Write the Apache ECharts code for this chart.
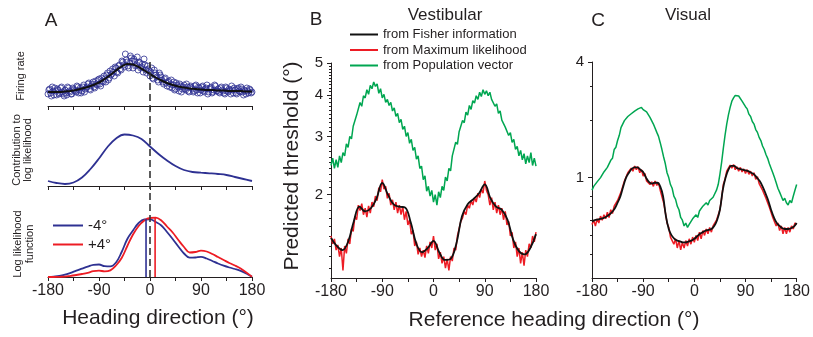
<!DOCTYPE html>
<html>
<head>
<meta charset="utf-8">
<script src="https://cdn.jsdelivr.net/npm/echarts@6/dist/echarts.min.js"></script>
<style>
  html, body { margin: 0; padding: 0; background: #fff; }
  #chart { width: 813px; height: 337px; }
</style>
</head>
<body>
<div id="chart"></div>
<script>
// headings sampled every 3 / 5 / 10 / 15 degrees
function steps(a, b, d) { var out = []; for (var v = a; v <= b + 1e-9; v += d) out.push(v); return out; }
var deg3 = steps(-180, 180, 3);
var deg3half = steps(-178.5, 178.5, 3);
var deg5 = steps(-180, 180, 5);
var deg10 = steps(-180, 180, 10);
var deg15 = steps(-180, 180, 15);

// panel A, top: firing rate (arbitrary units)
var firingA = [12,17,10,15,18,11,16,13,19,12, 16,11,18,14,12,17,15,20,13,18, 15,21,17,19,23,16,22,19,25,21,
  27,20,25,30,24,33,28,31,37,30, 38,33,41,36,44,39,46,40,43,48, 38,45,41,36,43,39,34,41,33,37,
  30,38,27,33,29,24,31,26,22,28, 20,25,22,18,24,17,21,15,20,17, 21,16,19,14,20,17,15,21,13,18,
  16,20,14,18,12,17,19,14,21,15, 17,13,19,15,12,18,14,16,20,13, 16,12,18,14,17,11,15,18,13,16, 14];
var firingB = [16,13,19,11,15,17,12,18,14,10, 13,19,15,12,18,16,14,19,16,13, 19,14,18,22,17,20,24,18,22,26,
  22,28,24,27,31,26,35,32,34,39, 34,40,37,45,41,52,44,38,50,45, 47,40,49,44,38,42,47,36,40,35,
  34,28,36,31,26,33,29,24,27,23, 24,19,26,21,16,23,19,22,14,19, 17,22,15,19,18,14,20,16,19,13,
  19,15,17,21,14,18,13,16,20,15, 14,18,16,13,19,15,17,12,16,18, 13,17,15,19,14,16,12,15,17,13];
var firingFit = [14,14,14,14.5,15,16,17.5,19,21,23.5,27,31,35.5,39.5,42,41.5,39,35.5,32,28.5,25.5,23,21,19.5,
  18.5,17.5,17,16.5,16,16,15.5,15.5,15,15,15,14.5,14.5];

// panel A, middle: contribution to log likelihood
var contribution = [5,3,2,3.5,8.5,17,27.5,39,47.5,51.5,50.5,47,39.5,32,25.5,20,16,14,13.3,12.7,12,11,9,7,5];

// panel A, bottom: log likelihood functions
var llMinus4 = [0,0.4,1,2.3,4.2,6.3,8.3,10.3,12.2,12.5,10.8,10.6,14.5,25,38,46.5,54,57.5,57.7,55,51.5,45,38,30.5,
  23.5,19.3,19.5,20.2,18.5,16,13.5,11.3,9.5,8,6.2,3.5,0.3];
var llPlus4 = [0,0,0.2,0.4,1.2,2,3,4.2,5.8,6.4,5.6,6.6,11.5,19,31,42.5,51,56.5,59,59.3,56.5,50.5,44.5,37,
  30,24.5,25,26.3,25.5,23,20,17,14,11.5,8.5,4.5,0.3];
var peakMinus4 = [-7, 58];
var peakPlus4 = [9, 59.5];

// panel B: vestibular thresholds (deg)
var vestFisher = [1.48,1.40,1.36,1.44,1.66,1.84,1.78,1.82,1.95,2.17,2.00,1.87,1.84,1.83,1.65,1.42,1.34,1.38,1.45,
  1.34,1.27,1.28,1.42,1.72,1.87,1.94,2.02,2.15,1.95,1.84,1.80,1.68,1.46,1.35,1.32,1.38,1.52];
var vestML = [1.50,1.42,1.47,1.36,1.41,1.30,1.38,1.18,1.40,1.33, 1.47,1.42,1.58,1.55,1.72,1.68,1.86,1.79,1.88,1.74,
  1.82,1.71,1.85,1.76,1.90,1.84,1.98,1.92,2.10,2.04, 2.22,2.08,2.12,1.95,2.02,1.86,1.93,1.80,1.90,1.76,
  1.86,1.74,1.84,1.68,1.78,1.62,1.68,1.52,1.56,1.40, 1.44,1.32,1.38,1.30,1.36,1.29,1.40,1.33,1.44,1.38,
  1.50,1.36,1.42,1.28,1.34,1.24,1.30,1.20,1.28,1.18, 1.30,1.26,1.38,1.36,1.50,1.52,1.66,1.70,1.78,1.74,
  1.86,1.82,1.92,1.86,1.96,1.90,2.02,1.96,2.08,2.02, 2.20,2.06,2.00,1.86,1.96,1.80,1.90,1.76,1.86,1.74,
  1.82,1.68,1.78,1.62,1.66,1.50,1.54,1.38,1.44,1.30, 1.38,1.24,1.34,1.22,1.36,1.30,1.42,1.38,1.50,1.44, 1.54];
var vestPV = [2.45,2.58,2.40,2.55,2.42,2.62,2.50,2.68,2.62,2.85, 2.78,3.00,2.95,3.22,3.18,3.48,3.45,3.80,3.70,3.98,
  3.92,4.15,4.02,4.28,4.18,4.38,4.25,4.32,4.05,4.18, 3.92,4.02,3.80,3.88,3.72,3.80,3.58,3.66,3.45,3.52,
  3.30,3.38,3.15,3.22,3.00,3.08,2.86,2.94,2.72,2.78, 2.56,2.62,2.40,2.44,2.22,2.28,2.05,2.12,1.98,2.06,
  1.90,2.00,1.86,2.04,1.96,2.12,2.06,2.26,2.20,2.40, 2.36,2.62,2.60,2.88,2.84,3.10,3.06,3.35,3.30,3.55,
  3.48,3.72,3.62,3.85,3.78,3.98,3.88,4.08,3.96,4.15, 4.02,4.12,3.98,4.08,3.88,3.92,3.70,3.76,3.52,3.58,
  3.36,3.40,3.20,3.24,3.02,3.08,2.88,2.94,2.74,2.80, 2.62,2.72,2.55,2.66,2.48,2.62,2.50,2.68,2.45,2.58, 2.44];

// panel C: visual thresholds (deg)
var visFisher = [0.59,0.60,0.605,0.61,0.615,0.625,0.64,0.66,0.69,0.74,0.80,0.90,1.00,1.06,1.11,1.13,1.13,1.10,1.07,
  1.00,0.95,0.93,0.94,0.94,0.90,0.80,0.63,0.54,0.50,0.48,0.47,0.465,0.46,0.46,0.465,0.47,0.48,0.495,0.51,0.52,
  0.53,0.535,0.54,0.56,0.60,0.68,0.86,1.00,1.10,1.15,1.15,1.12,1.11,1.10,1.09,1.08,1.06,1.04,1.00,0.96,0.90,
  0.83,0.76,0.68,0.62,0.58,0.56,0.545,0.54,0.54,0.545,0.555,0.58];
var visML = [0.57,0.60,0.56,0.61,0.58,0.63,0.60,0.64,0.61,0.66, 0.62,0.68,0.65,0.71,0.70,0.76,0.76,0.84,0.86,0.96,
  0.97,1.06,1.04,1.12,1.08,1.15,1.10,1.14,1.06,1.10, 1.02,1.05,0.96,0.98,0.92,0.95,0.90,0.96,0.91,0.94,
  0.86,0.84,0.74,0.66,0.58,0.55,0.49,0.50,0.45,0.48, 0.43,0.47,0.42,0.46,0.43,0.47,0.44,0.48,0.45,0.49,
  0.46,0.50,0.47,0.52,0.48,0.53,0.50,0.54,0.51,0.55, 0.52,0.56,0.55,0.60,0.60,0.68,0.78,0.92,0.98,1.08,
  1.08,1.16,1.12,1.17,1.10,1.14,1.08,1.13,1.07,1.11, 1.05,1.10,1.04,1.08,1.02,1.06,0.98,1.01,0.93,0.95,
  0.86,0.86,0.78,0.77,0.70,0.69,0.62,0.62,0.56,0.58, 0.53,0.56,0.51,0.55,0.51,0.55,0.52,0.56,0.54,0.58, 0.57];
var visPV = [0.86,0.90,0.88,0.95,0.93,1.00,0.99,1.07,1.05,1.13, 1.14,1.23,1.26,1.40,1.44,1.56,1.66,1.82,1.86,1.98,
  2.00,2.08,2.06,2.15,2.14,2.22,2.20,2.28,2.26,2.32, 2.26,2.28,2.20,2.18,2.06,2.02,1.90,1.86,1.72,1.64,
  1.52,1.40,1.28,1.18,1.06,1.00,0.92,0.88,0.80,0.77, 0.71,0.68,0.62,0.60,0.56,0.58,0.55,0.57,0.59,0.61,
  0.60,0.64,0.62,0.67,0.66,0.71,0.70,0.74,0.72,0.76, 0.75,0.79,0.80,0.86,0.92,1.04,1.20,1.42,1.66,1.90,
  2.12,2.32,2.50,2.60,2.68,2.74,2.66,2.62,2.50,2.46, 2.34,2.28,2.14,2.08,1.96,1.90,1.78,1.72,1.62,1.56,
  1.46,1.40,1.32,1.26,1.18,1.12,1.06,1.00,0.94,0.88, 0.84,0.80,0.76,0.78,0.74,0.72,0.76,0.74,0.80,0.86, 0.92];

// ticks
var headingTicks = [-180, -90, 0, 90, 180];
var vestMajor = [2, 3, 4, 5];
var vestMinor = [1.2,1.3,1.4,1.5,1.6,1.7,1.8,1.9,2.1,2.2,2.3,2.4,2.5,2.6,2.7,2.8,2.9,3.1,3.2,3.3,3.4,3.5,3.6,3.7,3.8,3.9,
  4.1,4.2,4.3,4.4,4.5,4.6,4.7,4.8,4.9];
var visMajor = [1, 4];
var visMinor = [0.4, 0.5, 0.6, 0.7, 0.8, 2, 3];
var vestRange = [1.12, 5];
var visRange = [0.3, 4];

var FONT = '"Liberation Sans", Arial, Helvetica, sans-serif';
var INK = '#231f20';
var BLUE = '#2e3192';
var RED = '#ed1c24';
var GREEN = '#00a651';
var log10 = function (v) { return Math.log10(v); };

function pairs(xs, ys, f) {
  return xs.map(function (x, i) { return [x, f ? f(ys[i]) : ys[i]]; });
}

var chart = echarts.init(document.getElementById('chart'));

function headingAxis(gridIndex, showLabels) {
  return {
    type: 'value', gridIndex: gridIndex, min: -180, max: 180, interval: 45,
    axisLine: { show: true, onZero: false, lineStyle: { color: INK, width: 1 } },
    axisTick: { show: true, length: 4, lineStyle: { color: INK, width: 1 } },
    splitLine: { show: false },
    axisLabel: {
      show: showLabels, margin: 6, color: INK, fontFamily: FONT, fontSize: 16,
      formatter: function (v) { return headingTicks.indexOf(v) >= 0 ? String(v) : ''; }
    }
  };
}

function hiddenAxis(gridIndex, min, max) {
  return { type: 'value', gridIndex: gridIndex, min: min, max: max, show: false, splitLine: { show: false } };
}

function logAxis(gridIndex, range, major, minor) {
  return [{
    type: 'value', gridIndex: gridIndex, position: 'left',
    min: log10(range[0]), max: log10(range[1]),
    axisLine: { show: true, onZero: false, lineStyle: { color: INK, width: 1 } },
    axisTick: { show: true, length: 4, customValues: major.map(log10), lineStyle: { color: INK } },
    axisLabel: {
      show: true, margin: 8, color: INK, fontFamily: FONT, fontSize: 15,
      customValues: major.map(log10),
      formatter: function (v) { return String(Math.round(Math.pow(10, v))); }
    },
    splitLine: { show: false }
  }, {
    type: 'value', gridIndex: gridIndex, position: 'left',
    min: log10(range[0]), max: log10(range[1]),
    axisLine: { show: false, onZero: false },
    axisTick: { show: true, length: 2, customValues: minor.map(log10), lineStyle: { color: INK } },
    axisLabel: { show: false },
    splitLine: { show: false }
  }];
}

function line(name, xi, yi, data, color, width, extra) {
  var s = {
    name: name, type: 'line', xAxisIndex: xi, yAxisIndex: yi, data: data,
    showSymbol: false, symbol: 'none', lineStyle: { color: color, width: width }, itemStyle: { color: color },
    silent: true
  };
  for (var k in extra) s[k] = extra[k];
  return s;
}

var yB = logAxis(4, vestRange, vestMajor, vestMinor);
var yC = logAxis(5, visRange, visMajor, visMinor);

chart.setOption({
  animation: false,
  backgroundColor: '#fff',
  textStyle: { fontFamily: FONT },
  grid: [
    { left: 48, width: 204, top: 48, height: 58 },    // A firing
    { left: 48, width: 204, top: 130, height: 56 },   // A contribution
    { left: 48, width: 204, top: 213, height: 64 },   // A log likelihood
    { left: 48, width: 204, top: 62, height: 215 },   // A dashed reference
    { left: 331, width: 205, top: 63, height: 215 },  // B
    { left: 592, width: 205, top: 62, height: 216 }   // C
  ],
  xAxis: [
    headingAxis(0, false), headingAxis(1, false), headingAxis(2, true),
    { type: 'value', gridIndex: 3, min: -180, max: 180, show: false },
    headingAxis(4, true), headingAxis(5, true)
  ],
  yAxis: [
    hiddenAxis(0, 0, 58), hiddenAxis(1, 0, 56), hiddenAxis(2, 0, 64), hiddenAxis(3, 0, 1),
    yB[0], yB[1], yC[0], yC[1]
  ],
  legend: [{
    data: ['-4°', '+4°'], orient: 'vertical', left: 48, top: 213, itemWidth: 30, itemHeight: 2, itemGap: 4,
    icon: 'rect', textStyle: { color: INK, fontSize: 15, fontFamily: FONT }, selectedMode: false
  }, {
    data: ['from Fisher information', 'from Maximum likelihood', 'from Population vector'],
    orient: 'vertical', left: 345, top: 23, itemWidth: 28, itemHeight: 2, itemGap: 2.5,
    icon: 'rect', textStyle: { color: INK, fontSize: 13, fontFamily: FONT }, selectedMode: false
  }],
  series: [
    { name: 'firing', type: 'scatter', xAxisIndex: 0, yAxisIndex: 0, symbol: 'circle', symbolSize: 6,
      data: pairs(deg3, firingA).concat(pairs(deg3half, firingB)),
      itemStyle: { color: 'rgba(0,0,0,0)', borderColor: BLUE, borderWidth: 1 }, silent: true },
    line('fit', 0, 0, pairs(deg10, firingFit), '#111', 2, { smooth: 0.4 }),
    line('contribution', 1, 1, pairs(deg15, contribution), BLUE, 1.8, { smooth: 0.4 }),
    line('-4°', 2, 2, pairs(deg10, llMinus4), BLUE, 1.8, { smooth: 0.4 }),
    line('+4°', 2, 2, pairs(deg10, llPlus4), RED, 1.8, { smooth: 0.4 }),
    line('peak -4', 2, 2, [[peakMinus4[0], 0], peakMinus4], BLUE, 1.6),
    line('peak +4', 2, 2, [[peakPlus4[0], 0], peakPlus4], RED, 1.6),
    line('zero', 3, 3, [[0, 0], [0, 1]], '#333', 1.6, { lineStyle: { color: '#333', width: 1.6, type: [7, 4] } }),

    line('from Population vector', 4, 4, pairs(deg3, vestPV, log10), GREEN, 1.5),
    line('from Maximum likelihood', 4, 4, pairs(deg3, vestML, log10), RED, 1.5),
    line('from Fisher information', 4, 4, pairs(deg10, vestFisher, log10), '#111', 1.8, { smooth: 0.4 }),

    line('from Population vector', 5, 6, pairs(deg3, visPV, log10), GREEN, 1.5),
    line('from Maximum likelihood', 5, 6, pairs(deg3, visML, log10), RED, 1.5),
    line('from Fisher information', 5, 6, pairs(deg5, visFisher, log10), '#111', 1.8, { smooth: 0.4 })
  ],
  graphic: [
    { type: 'text', x: 51, y: 21, style: { text: 'A', font: '19px ' + FONT, fill: INK, align: 'center', verticalAlign: 'middle' } },
    { type: 'text', x: 316, y: 20, style: { text: 'B', font: '19px ' + FONT, fill: INK, align: 'center', verticalAlign: 'middle' } },
    { type: 'text', x: 598, y: 21, style: { text: 'C', font: '19px ' + FONT, fill: INK, align: 'center', verticalAlign: 'middle' } },
    { type: 'text', x: 445, y: 15, style: { text: 'Vestibular', font: '17px ' + FONT, fill: INK, align: 'center', verticalAlign: 'middle' } },
    { type: 'text', x: 688, y: 15, style: { text: 'Visual', font: '17px ' + FONT, fill: INK, align: 'center', verticalAlign: 'middle' } },
    { type: 'text', x: 158, y: 318, style: { text: 'Heading direction (°)', font: '21px ' + FONT, fill: INK, align: 'center', verticalAlign: 'middle' } },
    { type: 'text', x: 554, y: 320, style: { text: 'Reference heading direction (°)', font: '21px ' + FONT, fill: INK, align: 'center', verticalAlign: 'middle' } },
    { type: 'text', x: 292, y: 166, rotation: Math.PI / 2, style: { text: 'Predicted threshold (°)', font: '21px ' + FONT, fill: INK, align: 'center', verticalAlign: 'middle' } },
    { type: 'text', x: 21, y: 76, rotation: Math.PI / 2, style: { text: 'Firing rate', font: '11px ' + FONT, fill: INK, align: 'center', verticalAlign: 'middle' } },
    { type: 'text', x: 22.5, y: 150, rotation: Math.PI / 2, style: { text: 'Contribution to\nlog likelihood', font: '11px ' + FONT, lineHeight: 11.5, fill: INK, align: 'center', verticalAlign: 'middle' } },
    { type: 'text', x: 24, y: 244, rotation: Math.PI / 2, style: { text: 'Log likelihood\nfunction', font: '11px ' + FONT, lineHeight: 12, fill: INK, align: 'center', verticalAlign: 'middle' } }
  ]
});
</script>
</body>
</html>
